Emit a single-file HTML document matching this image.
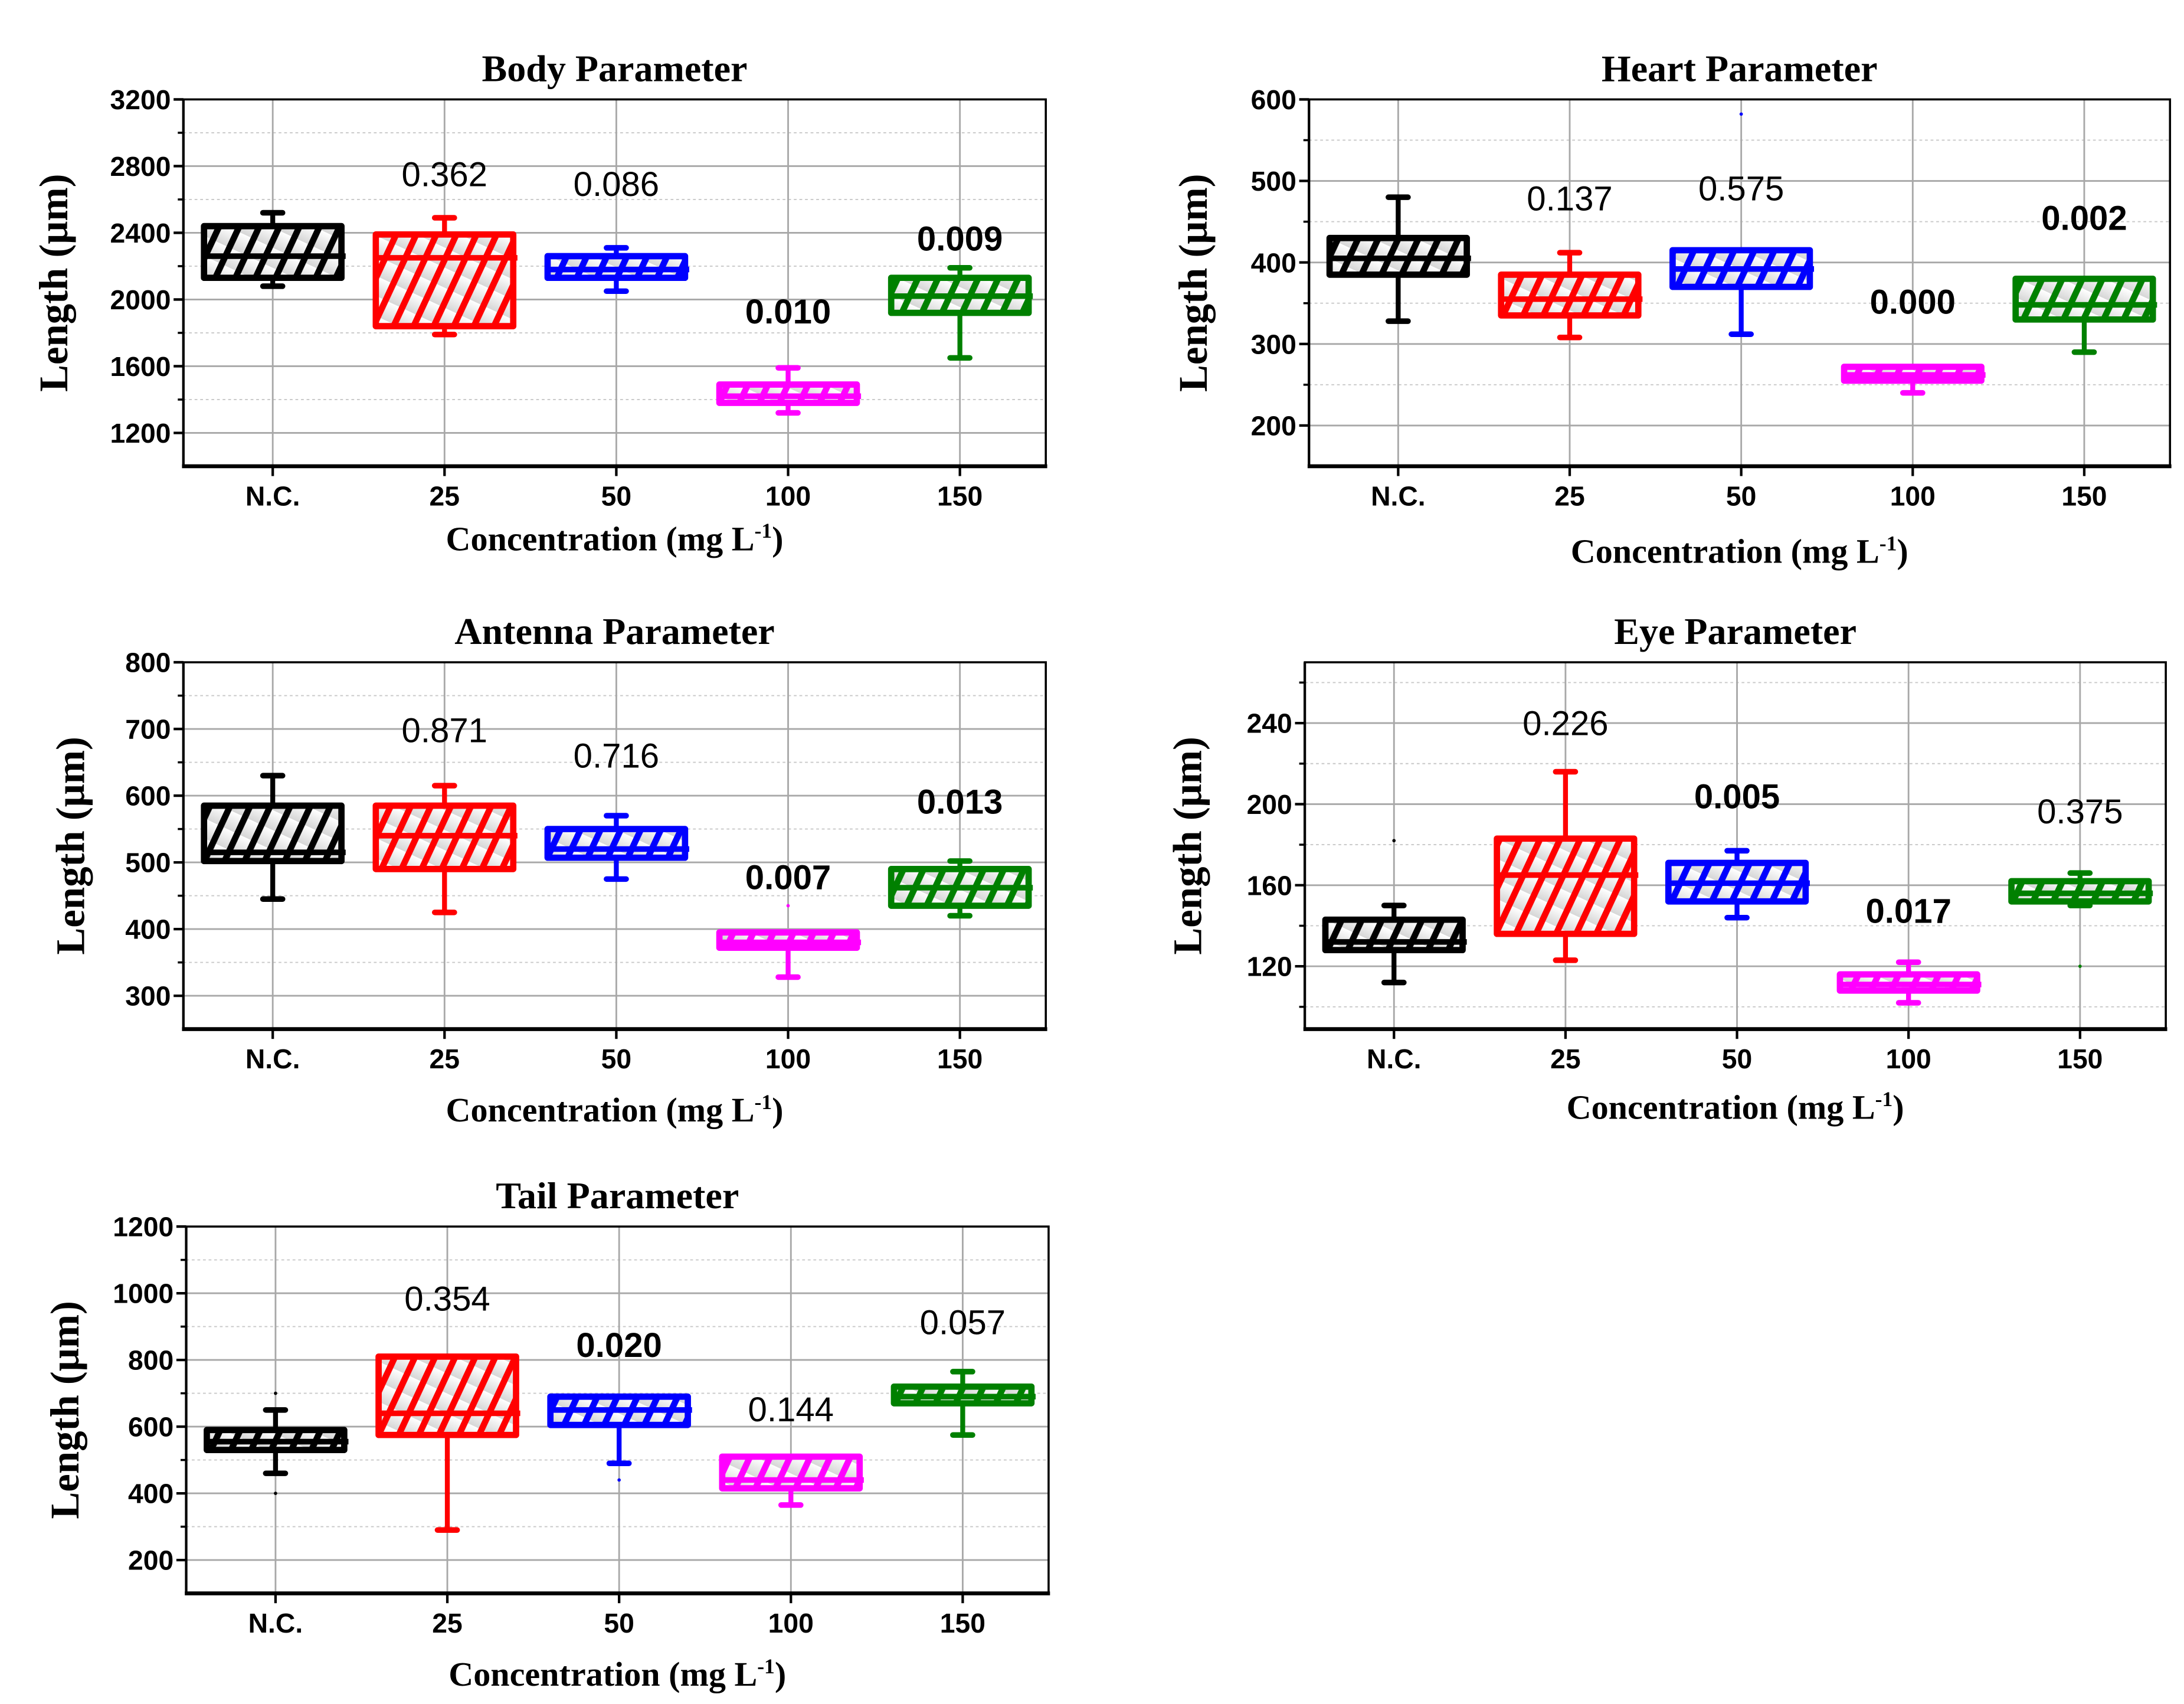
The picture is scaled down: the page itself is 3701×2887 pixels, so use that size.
<!DOCTYPE html>
<html><head><meta charset="utf-8"><style>
html,body{margin:0;padding:0;background:#fff;}
svg{display:block;}
</style></head><body>
<svg id="fig" xmlns="http://www.w3.org/2000/svg" width="3701" height="2887" viewBox="0 0 1560 1217" preserveAspectRatio="none">
<defs>
<linearGradient id="gfill" x1="0" y1="0" x2="0" y2="1"><stop offset="0" stop-color="#ffffff"/><stop offset="1" stop-color="#d6d6d6"/></linearGradient>
</defs>
<rect width="1560" height="1217" fill="#fff"/>
</svg>
<script>
const categories = ["N.C.", "25", "50", "100", "150"];
const colors = ["#000000", "#ff0000", "#0000ff", "#ff00ff", "#008000"];

const bodyWhiskerLow = [2080, 1790, 2050, 1320, 1650];
const bodyBoxLow = [2130, 1840, 2130, 1380, 1920];
const bodyMedian = [2260, 2250, 2180, 1420, 2020];
const bodyBoxHigh = [2440, 2390, 2260, 1490, 2130];
const bodyWhiskerHigh = [2520, 2490, 2310, 1590, 2190];
const bodyP = ["", "0.362", "0.086", "0.010", "0.009"];
const bodyPBold = [false, false, false, true, true];
const bodyPY = [0, 2679, 2621, 1856, 2293];
const bodyTicks = [1200, 1600, 2000, 2400, 2800, 3200];

const heartWhiskerLow = [328, 308, 312, 240, 290];
const heartBoxLow = [385, 335, 370, 255, 330];
const heartMedian = [405, 355, 392, 262, 348];
const heartBoxHigh = [430, 385, 415, 272, 380];
const heartWhiskerHigh = [480, 412, 415, 272, 380];
const heartP = ["", "0.137", "0.575", "0.000", "0.002"];
const heartPBold = [false, false, false, true, true];
const heartPY = [0, 464, 476, 337, 440];
const heartTicks = [200, 300, 400, 500, 600];
const heartOutliers = [[2, 582]];

const antennaWhiskerLow = [445, 425, 475, 328, 420];
const antennaBoxLow = [502, 490, 507, 372, 435];
const antennaMedian = [515, 540, 520, 380, 462];
const antennaBoxHigh = [585, 585, 550, 395, 490];
const antennaWhiskerHigh = [630, 615, 570, 395, 502];
const antennaP = ["", "0.871", "0.716", "0.007", "0.013"];
const antennaPBold = [false, false, false, true, true];
const antennaPY = [0, 680, 642, 460, 573];
const antennaTicks = [300, 400, 500, 600, 700, 800];
const antennaOutliers = [[3, 435]];

const eyeWhiskerLow = [112, 123, 144, 102, 150];
const eyeBoxLow = [128, 136, 152, 108, 152];
const eyeMedian = [132, 165, 161, 111, 156];
const eyeBoxHigh = [143, 183, 171, 116, 162];
const eyeWhiskerHigh = [150, 216, 177, 122, 166];
const eyeP = ["", "0.226", "0.005", "0.017", "0.375"];
const eyePBold = [false, false, true, true, false];
const eyePY = [0, 234, 198, 141.5, 190.5];
const eyeTicks = [120, 160, 200, 240];
const eyeOutliers = [[0, 182], [4, 120]];

const tailWhiskerLow = [460, 290, 490, 365, 575];
const tailBoxLow = [530, 575, 605, 415, 670];
const tailMedian = [555, 640, 650, 440, 690];
const tailBoxHigh = [590, 810, 690, 510, 720];
const tailWhiskerHigh = [650, 810, 690, 510, 765];
const tailP = ["", "0.354", "0.020", "0.144", "0.057"];
const tailPBold = [false, false, true, false, false];
const tailPY = [0, 948, 809, 616, 877];
const tailTicks = [200, 400, 600, 800, 1000, 1200];
const tailOutliers = [[0, 400], [0, 700], [2, 440]];

const NS = "http://www.w3.org/2000/svg";
const svg = document.getElementById("fig");
function mk(tag, attrs, parent) {
  const e = document.createElementNS(NS, tag);
  for (const k in attrs) e.setAttribute(k, attrs[k]);
  (parent || svg).appendChild(e);
  return e;
}
const defs = svg.querySelector("defs");
colors.forEach((c, i) => {
  const p = mk("pattern", {id: "hatch" + i, patternUnits: "userSpaceOnUse", width: 13, height: 13, patternTransform: "rotate(25)"}, defs);
  mk("rect", {x: 0, y: 0, width: 13, height: 13, fill: "url(#gfill)"}, p);
  mk("rect", {x: 0, y: 0, width: 4.5, height: 13, fill: c}, p);
});

function panel(cfg) {
  const g = mk("g", {});
  
  
  const {x0, x1, y0, y1, ymin, ymax} = cfg;
  const xs = i => x0 + (i + 0.52) / 5.02 * (x1 - x0);
  const ys = v => y1 - (v - ymin) / (ymax - ymin) * (y1 - y0);
  const step = cfg.ticks[1] - cfg.ticks[0];
  for (let v = cfg.ticks[0] - step / 2; v < ymax; v += step) {
    if (v <= ymin) continue;
    const l = mk("line", {x1: x0, x2: x1, y1: ys(v), y2: ys(v), stroke: "#c8c8c8", "stroke-width": 0.8, "stroke-dasharray": "2,2"}, g);
    
    
    const t = mk("line", {x1: x0 - 4, x2: x0, y1: ys(v), y2: ys(v), stroke: "#000", "stroke-width": 1.5}, g);
    
    
  }
  cfg.ticks.forEach(v => {
    const l = mk("line", {x1: x0, x2: x1, y1: ys(v), y2: ys(v), stroke: "#a8a8a8", "stroke-width": 1.2}, g);
    
    
    const t = mk("line", {x1: x0 - 7, x2: x0, y1: ys(v), y2: ys(v), stroke: "#000", "stroke-width": 1.8}, g);
    
    
    const tx = mk("text", {x: x0 - 9, y: ys(v) + 7, "text-anchor": "end", "font-family": "Liberation Sans, sans-serif", "font-weight": "bold", "font-size": 19.5}, g);
    tx.textContent = v;
    
    
  });
  categories.forEach((c, i) => {
    const l = mk("line", {x1: xs(i), x2: xs(i), y1: y0, y2: y1, stroke: "#a8a8a8", "stroke-width": 1.2}, g);
    
    
    const t = mk("line", {x1: xs(i), x2: xs(i), y1: y1, y2: y1 + 7, stroke: "#000", "stroke-width": 1.8}, g);
    
    
    const tx = mk("text", {x: xs(i), y: y1 + 28, "text-anchor": "middle", "font-family": "Liberation Sans, sans-serif", "font-weight": "bold", "font-size": 19.5}, g);
    tx.textContent = c;
    
    
  });
  categories.forEach((c, i) => {
    const col = colors[i];
    const cx = xs(i);
    const bw = (x1 - x0) / 5.02 * 0.8;
    const capw = 14;
    const wl = mk("line", {x1: cx, x2: cx, y1: ys(cfg.wl[i]), y2: ys(cfg.wh[i]), stroke: col, "stroke-width": 3.5}, g);
    
    
    [cfg.wl[i], cfg.wh[i]].forEach(v => {
      const cap = mk("line", {x1: cx - capw / 2, x2: cx + capw / 2, y1: ys(v), y2: ys(v), stroke: col, "stroke-width": 4, "stroke-linecap": "round"}, g);
      
      
    });
    const top = ys(cfg.bh[i]), bot = ys(cfg.bl[i]);
    const b = mk("rect", {x: cx - bw / 2, y: top, width: bw, height: Math.max(bot - top, 1), fill: "url(#hatch" + i + ")", stroke: col, "stroke-width": 4.5, "stroke-linejoin": "round"}, g);
    
    
    const m = mk("line", {x1: cx - bw / 2, x2: cx + bw / 2 + 3, y1: ys(cfg.med[i]), y2: ys(cfg.med[i]), stroke: col, "stroke-width": 4}, g);
    
    
    if (cfg.p[i]) {
      const pt = mk("text", {x: cx, y: ys(cfg.py[i]), "text-anchor": "middle", "font-family": "Liberation Sans, sans-serif", "font-weight": cfg.pb[i] ? "bold" : "normal", "font-size": 24.5}, g);
      pt.textContent = cfg.p[i];
      
      
    }
  });
  (cfg.out || []).forEach(o => {
    const d = mk("circle", {cx: xs(o[0]), cy: ys(o[1]), r: 1.2, fill: colors[o[0]]}, g);
    
    
  });
  const f = mk("rect", {x: x0, y: y0, width: x1 - x0, height: y1 - y0, fill: "none", stroke: "#000", "stroke-width": 1.5}, g);
  
  
  const xa = mk("line", {x1: x0 - 1, x2: x1 + 1, y1: y1, y2: y1, stroke: "#000", "stroke-width": 2.8}, g);
  
  
  const ya = mk("line", {x1: x0, x2: x0, y1: y0, y2: y1, stroke: "#000", "stroke-width": 1.8}, g);
  
  
  const ti = mk("text", {x: (x0 + x1) / 2, y: y0 - 13, "text-anchor": "middle", "font-family": "Liberation Serif, serif", "font-weight": "bold", "font-size": 27}, g);
  ti.textContent = cfg.title;
  
  
  const xl = mk("text", {x: (x0 + x1) / 2, y: y1 + cfg.xlOff, "text-anchor": "middle", "font-family": "Liberation Serif, serif", "font-weight": "bold", "font-size": 24.5}, g);
  xl.innerHTML = 'Concentration (mg L<tspan dy="-9" font-size="15">-1</tspan><tspan dy="9">)</tspan>';
  
  
  const yc = (y0 + y1) / 2;
  const yl = mk("text", {x: cfg.ylx, y: yc, "text-anchor": "middle", transform: `rotate(-90 ${cfg.ylx} ${yc})`, "font-family": "Liberation Serif, serif", "font-weight": "bold", "font-size": 29}, g);
  yl.textContent = "Length (\u03bcm)";
  
  
}

panel({name: "body-parameter-chart", title: "Body Parameter", x0: 131, x1: 747, y0: 71, y1: 333, ymin: 1000, ymax: 3200, ticks: bodyTicks,
  wl: bodyWhiskerLow, bl: bodyBoxLow, med: bodyMedian, bh: bodyBoxHigh, wh: bodyWhiskerHigh, p: bodyP, pb: bodyPBold, py: bodyPY, xlOff: 60, ylx: 48});
panel({name: "heart-parameter-chart", title: "Heart Parameter", x0: 935, x1: 1550, y0: 71, y1: 333, ymin: 150, ymax: 600, ticks: heartTicks,
  wl: heartWhiskerLow, bl: heartBoxLow, med: heartMedian, bh: heartBoxHigh, wh: heartWhiskerHigh, p: heartP, pb: heartPBold, py: heartPY, out: heartOutliers, xlOff: 69, ylx: 862});
panel({name: "antenna-parameter-chart", title: "Antenna Parameter", x0: 131, x1: 747, y0: 473, y1: 735, ymin: 250, ymax: 800, ticks: antennaTicks,
  wl: antennaWhiskerLow, bl: antennaBoxLow, med: antennaMedian, bh: antennaBoxHigh, wh: antennaWhiskerHigh, p: antennaP, pb: antennaPBold, py: antennaPY, out: antennaOutliers, xlOff: 66, ylx: 60});
panel({name: "eye-parameter-chart", title: "Eye Parameter", x0: 932, x1: 1547, y0: 473, y1: 735, ymin: 89, ymax: 270, ticks: eyeTicks,
  wl: eyeWhiskerLow, bl: eyeBoxLow, med: eyeMedian, bh: eyeBoxHigh, wh: eyeWhiskerHigh, p: eyeP, pb: eyePBold, py: eyePY, out: eyeOutliers, xlOff: 64, ylx: 858});
panel({name: "tail-parameter-chart", title: "Tail Parameter", x0: 133, x1: 749, y0: 876, y1: 1138, ymin: 100, ymax: 1200, ticks: tailTicks,
  wl: tailWhiskerLow, bl: tailBoxLow, med: tailMedian, bh: tailBoxHigh, wh: tailWhiskerHigh, p: tailP, pb: tailPBold, py: tailPY, out: tailOutliers, xlOff: 66, ylx: 56});
</script>
</body></html>
